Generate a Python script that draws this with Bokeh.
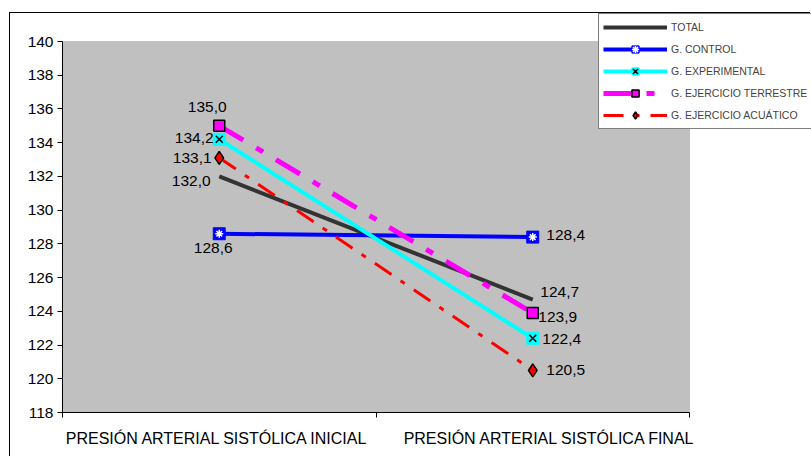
from bokeh.plotting import figure
from bokeh.models import (ColumnDataSource, FixedTicker, Legend, LegendItem,
                          BoxAnnotation, Range1d)
from bokeh.embed import file_html
from bokeh.resources import INLINE
from bokeh.core.properties import value

# ---------------- data ----------------
categories = ["PRESIÓN ARTERIAL SISTÓLICA INICIAL", "PRESIÓN ARTERIAL SISTÓLICA FINAL"]
series_names = ["TOTAL", "G. CONTROL", "G. EXPERIMENTAL",
                "G. EJERCICIO TERRESTRE", "G. EJERCICIO ACUÁTICO"]
total = [132.0, 124.7]
control = [128.6, 128.4]
experimental = [134.2, 122.4]
terrestre = [135.0, 123.9]
acuatico = [133.1, 120.5]
y_ticks = [118, 120, 122, 124, 126, 128, 130, 132, 134, 136, 138, 140]
y_min, y_max = 118, 140

# ---------------- styles / geometry ----------------
FONT = "Liberation Sans"
W, H = 801, 444              # canvas (page has 10px/13px chart-area offset)
PLOT_L, PLOT_W = 52, 627     # grey plot area in canvas pixels
PLOT_T, PLOT_H = 28, 371
px_x = PLOT_W / len(categories)
px_y = PLOT_H / (y_max - y_min)
frame_w = W - PLOT_L
frame_h = PLOT_T + PLOT_H
cat_label_shift_px = [-2, 17]   # horizontal nudge of category labels

# label offsets in pixels (initial, final) per series
label_dx = {"TOTAL": [-28, 27], "G. CONTROL": [-6, 33],
            "G. EXPERIMENTAL": [-25, 29], "G. EJERCICIO TERRESTRE": [-12, 25],
            "G. EJERCICIO ACUÁTICO": [-27, 33]}
label_dy = {"TOTAL": [5, -8], "G. CONTROL": [14, -2],
            "G. EXPERIMENTAL": [-1, 1], "G. EJERCICIO TERRESTRE": [-19, 4],
            "G. EJERCICIO ACUÁTICO": [0, 0]}

xs = [i + 0.5 for i in range(len(categories))]
label_xs = [xs[i] + cat_label_shift_px[i] / px_x for i in range(len(categories))]

p = figure(width=W, height=H, output_backend="svg", toolbar_location=None,
           x_range=Range1d(0, frame_w / px_x),
           y_range=Range1d(y_min, y_min + frame_h / px_y),
           min_border_left=PLOT_L, min_border_right=0, min_border_top=0,
           min_border_bottom=H - frame_h,
           styles={"margin-left": "9px", "margin-top": "12px",
                   "border-left": "1px solid black",
                   "border-top": "1px solid black"})
p.background_fill_color = "white"
p.border_fill_color = "white"
p.outline_line_color = None
p.xgrid.visible = False
p.ygrid.visible = False

# grey plot area
plot_area = BoxAnnotation(left=0, right=len(categories), bottom=y_min, top=y_max,
                          fill_color="#C0C0C0", fill_alpha=1,
                          line_color="#808080", line_width=1, level="underlay")
p.add_layout(plot_area)

# x axis
p.xaxis.bounds = (0, len(categories))
p.xaxis.ticker = FixedTicker(ticks=label_xs,
                             minor_ticks=list(range(len(categories) + 1)))
p.xaxis.major_label_overrides = {label_xs[i]: categories[i]
                                 for i in range(len(categories))}
p.xaxis.major_tick_out = 0
p.xaxis.major_tick_in = 0
p.xaxis.minor_tick_out = 5
p.xaxis.minor_tick_in = 0
p.xaxis.minor_tick_line_color = "black"
p.xaxis.axis_line_color = "black"
p.xaxis.major_label_standoff = 12
p.xaxis.major_label_text_font = FONT
p.xaxis.major_label_text_font_size = "16px"
p.xaxis.major_label_text_color = "black"

# y axis
p.yaxis.bounds = (y_min, y_max)
p.yaxis.ticker = FixedTicker(ticks=y_ticks)
p.yaxis.minor_tick_line_color = None
p.yaxis.major_tick_out = 5
p.yaxis.major_tick_in = 0
p.yaxis.major_tick_line_color = "black"
p.yaxis.axis_line_color = "black"
p.yaxis.major_label_standoff = 4
p.yaxis.major_label_text_font = FONT
p.yaxis.major_label_text_font_size = "15.5px"
p.yaxis.major_label_text_color = "black"

# series
r_total = p.line(xs, total, line_color="#333333", line_width=4)

r_control = p.line(xs, control, line_color="#0000FF", line_width=4)
m_control1 = p.scatter(xs, control, marker="square", size=12,
                       fill_color="#0000FF", line_color="#0000FF")
m_control2 = p.scatter(xs, control, marker="asterisk", size=8,
                       line_color="white", line_width=1.5)

r_exp = p.line(xs, experimental, line_color="#00FFFF", line_width=4)
m_exp1 = p.scatter(xs, experimental, marker="square", size=12,
                   fill_color="#00FFFF", line_color="#00FFFF")
m_exp2 = p.scatter(xs, experimental, marker="x", size=10,
                   line_color="black", line_width=1.5)

r_ter = p.line(xs, terrestre, line_color="#FF00FF", line_width=5,
               line_dash="28 15 8 15")
m_ter = p.scatter(xs, terrestre, marker="square", size=11,
                  fill_color="#FF00FF", line_color="black", line_width=1.5)

r_acu = p.line(xs, acuatico, line_color="#FF0000", line_width=3,
               line_dash="20 11 5 11")
m_acu = p.scatter(xs, acuatico, marker="diamond", size=13,
                  fill_color="#FF0000", line_color="black", line_width=1.5)

# data labels
all_series = [total, control, experimental, terrestre, acuatico]
lx, ly, lt, ldx, ldy = [], [], [], [], []
for name, vals in zip(series_names, all_series):
    for i, v in enumerate(vals):
        lx.append(xs[i])
        ly.append(v)
        lt.append(f"{v:.1f}".replace(".", ","))
        ldx.append(label_dx[name][i])
        ldy.append(label_dy[name][i])
src = ColumnDataSource(dict(x=lx, y=ly, text=lt, dx=ldx, dy=ldy))
p.text(x="x", y="y", text="text", x_offset="dx", y_offset="dy", source=src,
       text_align="center", text_baseline="middle", text_font=value(FONT),
       text_font_size="15.5px", text_color="black")

# legend
legend = Legend(items=[
    LegendItem(label=series_names[0], renderers=[r_total]),
    LegendItem(label=series_names[1], renderers=[r_control, m_control1, m_control2]),
    LegendItem(label=series_names[2], renderers=[r_exp, m_exp1, m_exp2]),
    LegendItem(label=series_names[3], renderers=[r_ter, m_ter]),
    LegendItem(label=series_names[4], renderers=[r_acu, m_acu]),
], location=(536, 283), glyph_width=64, glyph_height=18, label_height=18,
    spacing=4, padding=4, margin=0, label_standoff=4, label_width=150,
    label_text_font=FONT, label_text_font_size="10.5px",
    border_line_color="black", border_line_width=1,
    background_fill_color="white", background_fill_alpha=1)
p.add_layout(legend)

open("out.html", "w").write(file_html(p, INLINE))
